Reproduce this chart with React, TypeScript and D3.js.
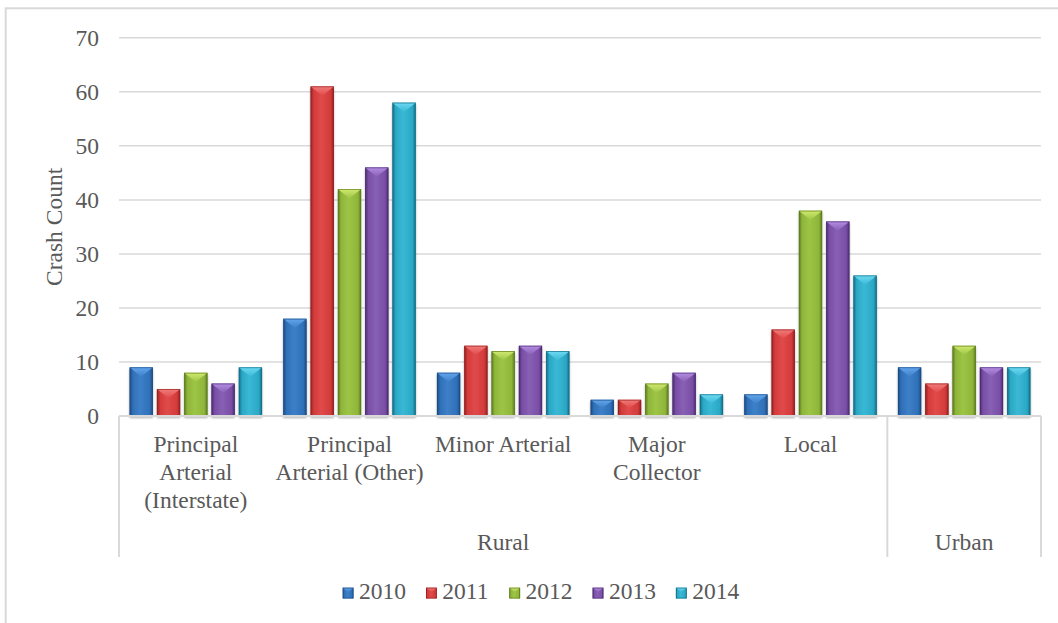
import React from "react";
import * as d3 from "d3";

const categories = [
  ["Principal", "Arterial", "(Interstate)"],
  ["Principal", "Arterial (Other)"],
  ["Minor Arterial"],
  ["Major", "Collector"],
  ["Local"],
  [""],
];
const groups = [
  { name: "Rural", start: 0, end: 5 },
  { name: "Urban", start: 5, end: 6 },
];
const years = ["2010", "2011", "2012", "2013", "2014"];
const s2010 = [9, 18, 8, 3, 4, 9];
const s2011 = [5, 61, 13, 3, 16, 6];
const s2012 = [8, 42, 12, 6, 38, 13];
const s2013 = [6, 46, 13, 8, 36, 9];
const s2014 = [9, 58, 12, 4, 26, 9];
const series = [s2010, s2011, s2012, s2013, s2014];
const yTicks = [0, 10, 20, 30, 40, 50, 60, 70];

const palette = [
  { body: "#2f70b8", edge: "#1d4a82", top: "#63a6ec", light: "#3d80c8" },
  { body: "#d43b3b", edge: "#922020", top: "#f27c7c", light: "#e04a4a" },
  { body: "#8fb63a", edge: "#5c7a1b", top: "#d2ea70", light: "#9cc445" },
  { body: "#7a4ea6", edge: "#4a2c70", top: "#b58ee4", light: "#8760b4" },
  { body: "#2aa8c6", edge: "#136c84", top: "#6edaf4", light: "#3ab8d4" },
];

const FONT = "Liberation Serif";
const TXT = "#595959";
const GRID = "#d9d9d9";

const W = 1058;
const H = 623;
const plotL = 119;
const plotR = 1041;
const y0 = 416;
const yTop = 37.8;
const axisBottom = 557;
const FS = 23.5;

function BevelBar({ x, y, w, h, i }: { x: number; y: number; w: number; h: number; i: number }) {
  const c = palette[i];
  const th = Math.min(w * 0.4, h * 0.5);
  return (
    <g>
      <rect x={x} y={y} width={w} height={h} fill={`url(#hg${i})`} />
      <polygon
        points={`${x},${y} ${x + w},${y} ${x + w / 2},${y + th}`}
        fill={`url(#tg${i})`}
      />
      <rect x={x + 0.4} y={y + 0.4} width={w - 0.8} height={h - 0.8} fill="none" stroke={c.edge} strokeWidth={0.8} strokeOpacity={0.8} />
    </g>
  );
}

export default function App() {
  const x = d3.scaleBand<number>().domain(d3.range(categories.length)).range([plotL, plotR]).padding(0);
  const bw = x.bandwidth();
  const xs = d3
    .scaleBand<number>()
    .domain(d3.range(years.length))
    .range([10.6, bw - 10.6])
    .paddingInner(0.147)
    .paddingOuter(0);
  const y = d3.scaleLinear().domain([0, 70]).range([y0, yTop]);

  const legendX0 = 342.7;
  const legendStep = 83.3;
  const textStyle = { fontFamily: FONT, fontSize: FS, fill: TXT } as React.CSSProperties;

  return (
    <svg width={W} height={H} style={{ position: "absolute", left: 0, top: 0, background: "#fff" }}>
      <defs>
        {palette.map((c, i) => (
          <linearGradient key={"h" + i} id={`hg${i}`} x1="0" x2="1" y1="0" y2="0">
            <stop offset="0%" stopColor={c.edge} />
            <stop offset="14%" stopColor={c.body} />
            <stop offset="45%" stopColor={c.light} />
            <stop offset="86%" stopColor={c.body} />
            <stop offset="100%" stopColor={c.edge} />
          </linearGradient>
        ))}
        {palette.map((c, i) => (
          <linearGradient key={"t" + i} id={`tg${i}`} x1="0" x2="0" y1="0" y2="1">
            <stop offset="0%" stopColor={c.top} />
            <stop offset="100%" stopColor={c.light} />
          </linearGradient>
        ))}
        <filter id="shadow" x="-20%" y="-20%" width="140%" height="140%">
          <feDropShadow dx="0" dy="2" stdDeviation="1.3" floodColor="#000" floodOpacity="0.3" />
        </filter>
      </defs>
      <rect x={0} y={0} width={W} height={H} fill="#fff" />
      <rect x={5.7} y={8.3} width={W + 20} height={H + 20} fill="none" stroke={GRID} strokeWidth={2} />

      {yTicks.slice(1).map((t) => (
        <line key={t} x1={plotL} x2={plotR} y1={y(t)} y2={y(t)} stroke={GRID} strokeWidth={1.5} />
      ))}

      {yTicks.map((t) => (
        <text key={"yl" + t} x={99} y={y(t)} dy="0.34em" textAnchor="end" style={textStyle}>
          {t}
        </text>
      ))}

      <text
        transform={`translate(61.5, ${(yTop + y0) / 2}) rotate(-90)`}
        textAnchor="middle"
        style={textStyle}
      >
        Crash Count
      </text>

      <g filter="url(#shadow)">
        {series.map((vals, si) =>
          vals.map((v, ci) => {
            const bx = (x(ci) as number) + (xs(si) as number);
            const by = y(v);
            return <BevelBar key={`${si}-${ci}`} x={bx} y={by} w={xs.bandwidth()} h={y0 - by} i={si} />;
          })
        )}
      </g>

      <line x1={plotL} x2={plotR} y1={y0} y2={y0} stroke={GRID} strokeWidth={2} />
      {[0, 5, 6].map((k) => {
        const xx = k === 6 ? plotR : (x(k) as number);
        return <line key={"v" + k} x1={xx} x2={xx} y1={y0} y2={axisBottom} stroke={GRID} strokeWidth={2} />;
      })}

      {categories.map((lines, ci) => (
        <text key={"c" + ci} x={(x(ci) as number) + bw / 2} y={451.7} textAnchor="middle" style={textStyle}>
          {lines.map((ln, li) => (
            <tspan key={li} x={(x(ci) as number) + bw / 2} y={451.7 + li * 28.3}>
              {ln}
            </tspan>
          ))}
        </text>
      ))}

      {groups.map((g) => {
        const a = x(g.start) as number;
        const b = g.end >= categories.length ? plotR : (x(g.end) as number);
        return (
          <text key={g.name} x={(a + b) / 2} y={550} textAnchor="middle" style={textStyle}>
            {g.name}
          </text>
        );
      })}

      {years.map((yr, i) => {
        const lx = legendX0 + i * legendStep;
        return (
          <g key={yr}>
            <BevelBar x={lx} y={587.7} w={10.8} h={10.8} i={i} />
            <text x={lx + 16.3} y={599} style={textStyle}>
              {yr}
            </text>
          </g>
        );
      })}
    </svg>
  );
}
